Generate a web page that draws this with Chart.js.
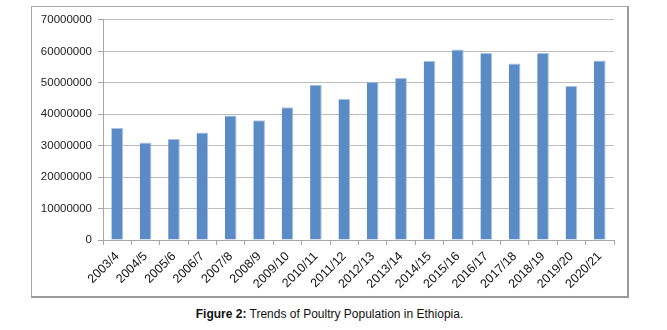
<!DOCTYPE html>
<html lang="en">
<head>
    <meta charset="UTF-8">
    <title>Trends of Poultry Population in Ethiopia</title>
    <script src="https://cdn.jsdelivr.net/npm/chart.js"></script>
    <style>
        body { margin: 0; background: #fff; font-family: "Liberation Sans", Arial, sans-serif; }
        #wrap { position: relative; width: 667px; height: 330px; }
        #box {
            position: absolute; left: 31px; top: 6px;
            width: 595px; height: 289px;
            border: 1px solid #a6a6a6;
            border-right: 2px solid #9a9a9a;
            border-bottom: 2px solid #9a9a9a;
        }
        #caption {
            position: absolute; left: 0; width: 659px; top: 307px;
            text-align: center; font-size: 12px; color: #111;
        }
    </style>
</head>
<body>
<div id="wrap">
    <div id="box"><canvas id="poultryChart" width="595" height="289"></canvas></div>
    <div id="caption"><b>Figure 2:</b> Trends of Poultry Population in Ethiopia.</div>
</div>
<script>
    // data
    const years = ['2003/4', '2004/5', '2005/6', '2006/7', '2007/8', '2008/9', '2009/10', '2010/11', '2011/12',
        '2012/13', '2013/14', '2014/15', '2015/16', '2016/17', '2017/18', '2018/19', '2019/20', '2020/21'];
    const poultry = [35600000, 31000000, 32100000, 34200000, 39600000, 38100000, 42200000, 49400000, 44900000,
        50300000, 51500000, 56900000, 60600000, 59500000, 56100000, 59500000, 49000000, 57100000];
    const yTicks = [0, 10000000, 20000000, 30000000, 40000000, 50000000, 60000000, 70000000];

    let ctx = document.getElementById('poultryChart').getContext('2d');
    new Chart(ctx, {
        type: 'bar',
        data: {
            labels: years,
            datasets: [{
                label: 'Poultry population',
                data: poultry,
                backgroundColor: '#5b8bc6',
                borderColor: '#a9c3e3',
                borderWidth: { top: 1, right: 1, left: 0, bottom: 0 },
                borderSkipped: 'bottom',
                barPercentage: 0.41,
                categoryPercentage: 1
            }]
        },
        options: {
            responsive: false,
            animation: false,
            layout: { padding: { left: 0, right: 13, top: 11, bottom: 0 } },
            plugins: { legend: { display: false }, tooltip: { enabled: false } },
            scales: {
                x: {
                    grid: { drawOnChartArea: false, drawTicks: true, tickLength: 5, color: '#a6a6a6', offset: true },
                    border: { color: '#a6a6a6' },
                    ticks: {
                        minRotation: 45, maxRotation: 45, autoSkip: false,
                        color: '#111', padding: 4,
                        font: { family: '"Liberation Sans", Arial, sans-serif', size: 12.5 }
                    },
                    afterFit: (scale) => { scale.height = 56; }
                },
                y: {
                    min: 0, max: 70000000,
                    afterBuildTicks: (scale) => { scale.ticks = yTicks.map(v => ({ value: v })); },
                    grid: { color: '#bdbdbd', drawTicks: true, tickLength: 5, tickColor: '#a6a6a6' },
                    border: { color: '#a6a6a6' },
                    ticks: {
                        color: '#222', padding: 6,
                        font: { family: '"Liberation Sans", Arial, sans-serif', size: 11.5 },
                        callback: (v) => String(v)
                    },
                    afterFit: (scale) => { scale.width = 71; }
                }
            }
        }
    });
</script>
</body>
</html>
